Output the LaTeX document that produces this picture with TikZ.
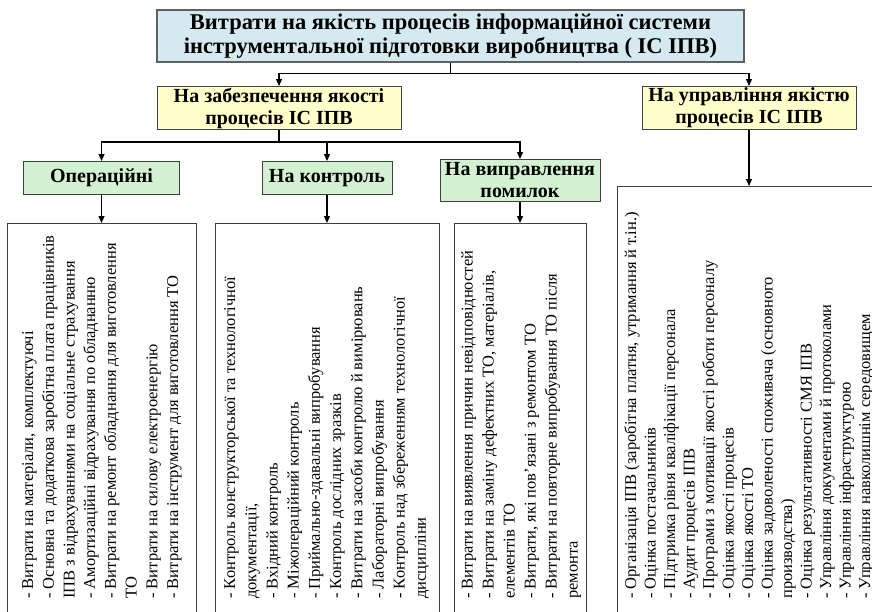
\documentclass[tikz,border=0pt]{standalone}
\usepackage{fontspec}
\setmainfont{Liberation Serif}
\usetikzlibrary{arrows.meta,calc}
\definecolor{topblue}{HTML}{D5EAF0}
\definecolor{lyellow}{HTML}{FFFFCC}
\definecolor{lgreen}{HTML}{D2F2D2}
\definecolor{bord}{HTML}{404040}
\begin{document}
\begin{tikzpicture}[x=1pt,y=-1pt,
  hdr/.style={draw=bord, line width=1pt, align=center, font=\bfseries\fontsize{20}{22}\selectfont, inner sep=0pt},
  topbox/.style={hdr, fill=topblue, line width=1.4pt, draw=gray!75!black, font=\bfseries\fontsize{22.5}{24}\selectfont, minimum width=587pt, minimum height=52pt},
  ybox/.style={hdr, fill=lyellow, minimum height=43pt},
  gbox/.style={hdr, fill=lgreen},
  listbox/.style={draw=bord, line width=0.8pt, inner sep=0pt, anchor=north west},
  listtxt/.style={rotate=90, anchor=north west, align=left, inner sep=0pt},
  conn/.style={line width=1.1pt, draw=black},
  arr/.style={conn, -{Triangle[length=7pt,width=6pt]}}
]
\useasboundingbox (0,0) rectangle (872,611);
\node[topbox] (top) at (450.5,36) {Витрати на якість процесів інформаційної системи\\інструментальної підготовки виробництва ( ІС ІПВ)};
\node[ybox, minimum width=244pt] (y1) at (279,108) {На забезпечення якості\\процесів ІС ІПВ};
\node[ybox, minimum width=214pt] (y2) at (749,108) {На управління якістю\\процесів ІС ІПВ};
\node[gbox, minimum width=156pt, minimum height=33pt] (g1) at (101.5,178) {Операційні};
\node[gbox, minimum width=130pt, minimum height=33pt] (g2) at (327,178) {На контроль};
\node[gbox, minimum width=160pt, minimum height=42pt] (g3) at (520,180.5) {На виправлення\\помилок};
\node[listbox, minimum width=189pt, minimum height=400pt] (t1) at (7,223) {};
\node[listbox, minimum width=224pt, minimum height=400pt] (t2) at (215,223) {};
\node[listbox, minimum width=132pt, minimum height=400pt] (t3) at (454,223) {};
\node[listbox, minimum width=300pt, minimum height=440pt] (t4) at (617,186) {};
\node[listtxt, font=\fontsize{16.5}{20.7}\selectfont] (t1x) at (22,599) {- Витрати на матеріали,  комплектуючі\\- Основна та додаткова заробітна плата працівників\\ІПВ з відрахуваннями на соціальне страхування\\- Амортизаційні відрахування по обладнанню\\- Витрати на ремонт обладнання  для виготовлення\\ТО\\- Витрати на силову електроенергію\\- Витрати на інструмент для виготовлення ТО};
\node[listtxt, font=\fontsize{16.5}{21.2}\selectfont] (t2x) at (224,599) {- Контроль  конструкторської та технологічної\\документації,\\- Вхідний контроль\\- Міжопераційний контроль\\- Приймально-здавальні випробування\\- Контроль дослідних зразків\\- Витрати на засоби контролю й вимірювань\\- Лабораторні випробування\\- Контроль над збереженням технологічної\\дисципліни};
\node[listtxt, font=\fontsize{16.5}{21}\selectfont] (t3x) at (461,599) {- Витрати на виявлення причин невідповідностей\\- Витрати на заміну дефектних ТО, матеріалів,\\елементів ТО\\- Витрати, які пов'язані з ремонтом ТО\\- Витрати на повторне випробування ТО після\\ремонта};
\node[listtxt, font=\fontsize{16.5}{19.5}\selectfont] (t4x) at (624,599) {- Організація ІПВ (заробітна платня, утримання й т.ін.)\\- Оцінка постачальників\\- Підтримка рівня кваліфікації персонала\\- Аудит процесів ІПВ\\- Програми з мотивації якості роботи персоналу\\- Оцінка якості процесів\\- Оцінка якості ТО\\- Оцінка задоволеності споживача (основного\\производства)\\- Оцінка результативності СМЯ ІПВ\\- Управління документами й протоколами\\- Управління інфраструктурою\\- Управління навколишнім середовищем};
\coordinate (j0) at ($(top.south)+(0,11)$);
\draw[conn] (top.south) -- (j0);
\draw[arr] (j0) -| (y1.north);
\draw[arr] (j0) -| (y2.north);
\coordinate (j1) at ($(y1.south)+(0,12)$);
\draw[conn] (y1.south) -- (j1);
\draw[arr] (j1) -| (g1.north);
\draw[arr] (j1) -| (g2.north);
\draw[arr] (j1) -| (g3.north);
\draw[arr] (g1.south) -- (g1.south |- t1.north);
\draw[arr] (g2.south) -- (g2.south |- t2.north);
\draw[arr] (g3.south) -- (g3.south |- t3.north);
\draw[arr] (y2.south) -- (y2.south |- t4.north);
\end{tikzpicture}
\end{document}
